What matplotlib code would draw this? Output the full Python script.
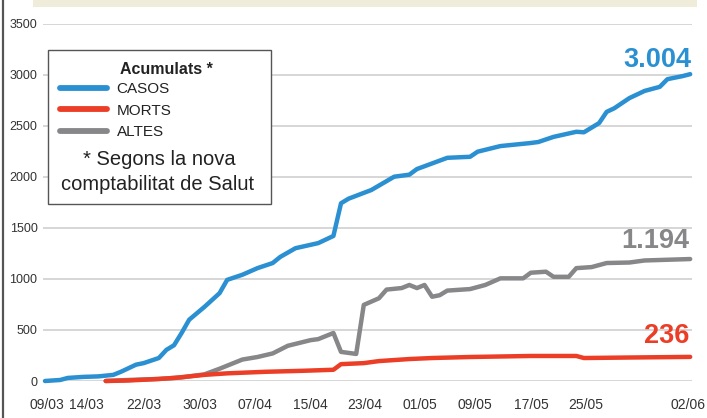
import matplotlib.pyplot as plt
from matplotlib.patches import Rectangle
from matplotlib.lines import Line2D

# day index (0 = 09/03) and cumulative values
casos_dia = [0, 2, 3, 5, 7, 9, 10, 12, 13, 15, 16, 17, 18, 19, 21, 23, 24, 26, 28, 30,
             31, 33, 36, 38, 39, 40, 43, 46, 48, 49, 53, 56, 57, 60, 64, 65, 67, 70, 71,
             73, 74, 75, 77, 79, 81, 82, 84, 85]
casos = [0, 10, 30, 40, 45, 60, 90, 160, 175, 225, 305, 350, 470, 600, 725, 860, 990,
         1040, 1105, 1155, 1215, 1300, 1350, 1420, 1740, 1785, 1870, 2000, 2020, 2075,
         2185, 2195, 2245, 2300, 2330, 2340, 2390, 2440, 2435, 2525, 2635, 2670, 2770,
         2840, 2880, 2955, 2985, 3004]

morts_dia = [8, 11, 15, 17, 21, 24, 29, 34, 38, 39, 42, 44, 48, 51, 56, 64, 70, 71, 77, 85]
morts = [0, 5, 20, 30, 60, 75, 90, 100, 110, 165, 175, 195, 215, 225, 235, 245, 245,
         225, 230, 236]

altes_dia = [8, 11, 15, 18, 21, 23, 24, 26, 28, 30, 32, 35, 36, 38, 39, 41, 42, 44, 45,
             47, 48, 49, 50, 51, 52, 53, 56, 58, 60, 63, 64, 66, 67, 69, 70, 72, 74, 77,
             79, 85]
altes = [0, 10, 20, 35, 65, 120, 150, 210, 235, 270, 345, 400, 410, 470, 285, 265, 745,
         810, 895, 910, 940, 910, 940, 825, 840, 885, 900, 940, 1005, 1005, 1060, 1070,
         1020, 1020, 1105, 1115, 1155, 1160, 1180, 1194]

etiquetes_x = ['09/03', '14/03', '22/03', '30/03', '07/04', '15/04', '23/04', '01/05',
               '09/05', '17/05', '25/05', '02/06']
pos_x = [0.26, 5.4, 13.04, 20.42, 27.67, 34.91, 42.16, 49.41, 56.65, 64.03, 71.28, 84.72]

blau = '#2b90d2'
vermell = '#ec3e26'
gris = '#87878a'
fam = ['Liberation Sans', 'DejaVu Sans']
plt.rcParams['font.family'] = fam

W, H = 707, 418
fig = plt.figure(figsize=(W / 100, H / 100), dpi=100)
fig.patch.set_facecolor('white')

def px(x, y):
    return x / W, 1 - y / H

# axes: left 43px, right 692px, top (3500) 23.5px, bottom (0) 381px
ax = fig.add_axes([43 / W, (H - 381) / H, (692 - 43) / W, (381 - 23.5) / H])
ax.set_xlim(-0.26, 85.24)
ax.set_ylim(0, 3500)
for s in ax.spines.values():
    s.set_visible(False)
ax.set_yticks(range(0, 3501, 500))
ax.yaxis.grid(True, color='#d3d3d3', lw=1.3)
ax.set_axisbelow(True)
ax.tick_params(axis='y', length=0, pad=4, labelsize=9, labelcolor='#333333')
ax.set_xticks(pos_x)
ax.set_xticklabels(etiquetes_x)
ax.tick_params(axis='x', length=0, pad=12, labelsize=10, labelcolor='#333333')

ax.plot(altes_dia, altes, color=gris, lw=3.2, solid_capstyle='round', clip_on=False, zorder=3)
ax.plot(morts_dia, morts, color=vermell, lw=3.2, solid_capstyle='round', clip_on=False, zorder=4)
ax.plot(casos_dia, casos, color=blau, lw=3.2, solid_capstyle='round', clip_on=False, zorder=5)

# final values
fig.text(*px(691, 67), '3.004', color=blau, fontsize=19.5, fontweight='bold',
         ha='right', va='baseline')
fig.text(*px(689, 248), '1.194', color=gris, fontsize=19.5, fontweight='bold',
         ha='right', va='baseline')
fig.text(*px(689, 343), '236', color=vermell, fontsize=19.5, fontweight='bold',
         ha='right', va='baseline')

# legend box
fig.patches.append(Rectangle(px(48, 204), 223 / W, 154 / H, transform=fig.transFigure,
                             facecolor='white', edgecolor='#555555', lw=1.0, zorder=6))
handles = [Line2D([], [], color=c, lw=4.2, solid_capstyle='round') for c in (blau, vermell, gris)]
leg = fig.legend(handles, ['CASOS', 'MORTS', 'ALTES'], loc='upper left',
                 bbox_to_anchor=px(60, 82), frameon=False, handlelength=3.1,
                 handletextpad=0.6, labelspacing=0.5, borderpad=0, borderaxespad=0,
                 prop={'size': 11})
leg.set_zorder(7)
for t in leg.get_texts():
    t.set_color('#222222')
fig.text(*px(120, 74), 'Acumulats *', fontsize=11.5, fontweight='bold',
         color='#222222', ha='left', va='baseline', zorder=7)
fig.text(*px(159, 165), '* Segons la nova', fontsize=14.5,
         color='#222222', ha='center', va='baseline', zorder=7)
fig.text(*px(158, 190), 'comptabilitat de Salut', fontsize=14.5,
         color='#222222', ha='center', va='baseline', zorder=7)

# page decorations
fig.patches.append(Rectangle(px(33, 7), 664 / W, 7 / H, transform=fig.transFigure,
                             facecolor='#efedd9', edgecolor='none', zorder=1))
fig.lines.append(Line2D([2.5 / W, 2.5 / W], [0, 1], transform=fig.transFigure,
                        color='#555555', lw=1.6))

fig.savefig('out.png', dpi=100)
